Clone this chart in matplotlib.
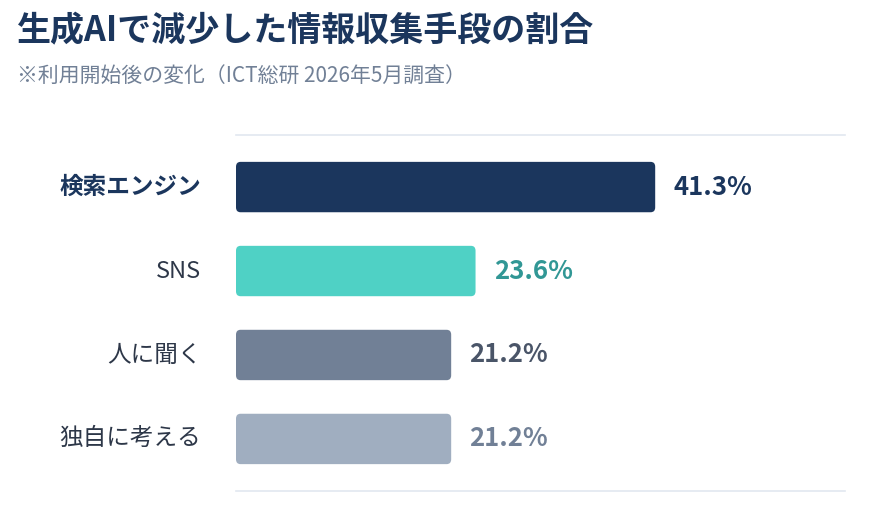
import matplotlib
matplotlib.use("Agg")
from matplotlib import pyplot as plt
from matplotlib.patches import FancyBboxPatch

plt.rcParams['font.family'] = ['Noto Sans CJK JP', 'DejaVu Sans']

categories = ["検索エンジン", "SNS", "人に聞く", "独自に考える"]
values = [41.3, 23.6, 21.2, 21.2]
bar_colors = ["#1b365d", "#4fd1c5", "#718096", "#a0aec0"]
value_colors = ["#1b365d", "#319795", "#4a5568", "#718096"]
label_colors = ["#1b365d", "#2d3748", "#2d3748", "#2d3748"]
label_weights = ["bold", "normal", "normal", "normal"]

fig = plt.figure(figsize=(8.84, 5.23), dpi=100)
ax = fig.add_axes([236/884, 1 - 491/523, (845 - 236)/884, (491 - 135)/523])

ypos = list(range(len(categories)))
bars = ax.barh(ypos, values, height=0.6, color=bar_colors)

# swap the plain bars for rounded ones
for b, c in zip(bars, bar_colors):
    b.set_visible(False)
    p = FancyBboxPatch((b.get_x(), b.get_y()), b.get_width(), b.get_height(),
                       boxstyle="round,pad=0,rounding_size=0.45",
                       mutation_aspect=0.13, facecolor=c, edgecolor="none")
    ax.add_patch(p)

ax.set_xlim(0, 60)
ax.set_ylim(3.62, -0.62)

for y, v, c in zip(ypos, values, value_colors):
    ax.annotate(f"{v}%", (v, y), xytext=(13, 0), textcoords="offset points",
                ha="left", va="center", fontsize=18.5, fontweight="bold", color=c)

for y, lab, c, w in zip(ypos, categories, label_colors, label_weights):
    ax.annotate(lab, (0, y), xytext=(-25, 0), textcoords="offset points",
                ha="right", va="center", fontsize=17, fontweight=w, color=c)

ax.set_xticks([])
ax.set_yticks([])
for s in ["left", "right"]:
    ax.spines[s].set_visible(False)
for s in ["top", "bottom"]:
    ax.spines[s].set_color("#e2e8f0")
    ax.spines[s].set_linewidth(1.2)

fig.text(17/884, 1 - 31/523, "生成AIで減少した情報収集手段の割合", ha="left", va="center",
         fontsize=24.5, fontweight="bold", color="#1b365d")
fig.text(17/884, 1 - 76/523, "※利用開始後の変化（ICT総研 2026年5月調査）", ha="left", va="center",
         fontsize=15, color="#718096")

fig.savefig("out.png", dpi=100)
